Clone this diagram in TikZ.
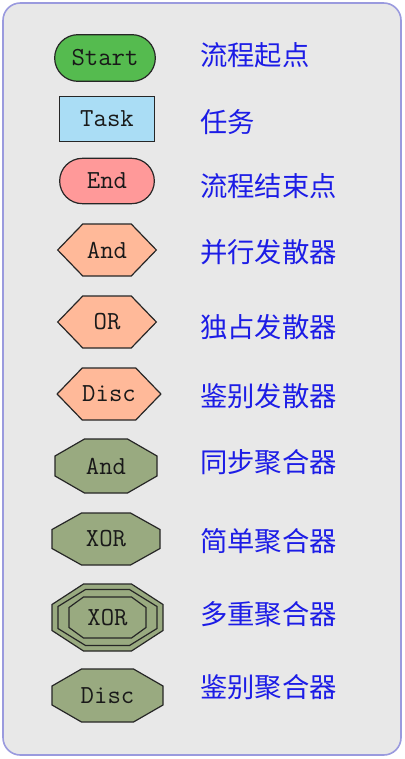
\documentclass[tikz,border=0pt]{standalone}
\usepackage{fontspec}
\newfontfamily\cjk{Noto Sans CJK SC}
\usetikzlibrary{shapes.misc, shapes.symbols}
\definecolor{panelbg}{HTML}{E8E8E8}
\definecolor{panelline}{HTML}{9A9ADE}
\definecolor{startfill}{HTML}{55BB4F}
\definecolor{taskfill}{HTML}{AADDF5}
\definecolor{endfill}{HTML}{FF9999}
\definecolor{splitfill}{HTML}{FFB999}
\definecolor{mergefill}{HTML}{99AA80}
\definecolor{labelblue}{HTML}{1C1CE6}
\tikzstyle{base} = [draw=black!85, line width=0.9pt, font=\ttfamily\fontsize{19.5}{19.5}\selectfont, text=black!90, inner sep=0pt]
\tikzstyle{startend} = [base, rounded rectangle, minimum width=75.5pt, minimum height=35pt]
\tikzstyle{taskbox} = [base, rectangle, minimum width=71pt, minimum height=33.5pt, fill=taskfill]
\tikzstyle{split} = [base, signal, signal to=west and east, signal pointer angle=92, minimum width=74pt, minimum height=39pt, fill=splitfill]
\tikzstyle{mergeline} = [draw=black!85, line width=0.9pt, fill=mergefill]
\tikzstyle{mergetext} = [base, draw=none]
\tikzstyle{legend} = [font=\cjk\fontsize{20.5}{20.5}\selectfont, text=labelblue, anchor=west, inner sep=0pt]
% octagon: centre, half width, half height, chamfer x, chamfer y
\newcommand{\mergeshape}[5]{%
  \draw[mergeline] (#1) ++({-(#2)},{(#5)-(#3)}) -- ++(0,{2*(#3)-2*(#5)}) -- ++(#4,#5)
    -- ++({2*(#2)-2*(#4)},0) -- ++(#4,{-(#5)}) -- ++(0,{2*(#5)-2*(#3)})
    -- ++({-(#4)},{-(#5)}) -- ++({2*(#4)-2*(#2)},0) -- cycle;}

\begin{document}
\begin{tikzpicture}[x=0.75pt, y=-0.75pt]
        \useasboundingbox (0,0) rectangle (404,759);
        \draw[fill=panelbg, draw=panelline, line width=1.2pt, rounded corners=13pt] (3,3) rectangle (401,755);
        \node[startend, fill=startfill] (start) at (105,58) {Start};
        \node[taskbox] (task) at (107,119) {Task};
        \node[startend, fill=endfill, minimum width=71pt, minimum height=34pt] (end) at (107,181) {End};
        \node[split] (and) at (107,250) {And};
        \node[split] (or) at (107,322) {OR};
        \node[split, minimum width=76pt] (disc) at (109,394) {Disc};
        \mergeshape{106,466}{51}{27}{29.5}{17}
        \node[mergetext] (sync) at (106,466) {And};
        \mergeshape{106,539}{54}{26}{29.5}{16.5}
        \node[mergetext] (xor) at (106,539) {XOR};
        \mergeshape{107.5,617.5}{55.5}{33.5}{31.5}{20.5}
        \mergeshape{107.5,617.5}{49.5}{28}{27.5}{17}
        \mergeshape{107.5,617.5}{38.5}{20.5}{14.5}{10.5}
        \node[mergetext] (multi) at (107.5,617.5) {XOR};
        \mergeshape{107.5,695.5}{55.5}{26.5}{29.5}{17}
        \node[mergetext] (discm) at (107.5,695.5) {Disc};
        \node[legend] (lstart) at (200,55) {流程起点};
        \node[legend] (ltask) at (200,122) {任务};
        \node[legend] (lend) at (200,186) {流程结束点};
        \node[legend] (land) at (200,252) {并行发散器};
        \node[legend] (lor) at (200,327) {独占发散器};
        \node[legend] (ldisc) at (200,396) {鉴别发散器};
        \node[legend] (lsync) at (200,462) {同步聚合器};
        \node[legend] (lxor) at (200,541) {简单聚合器};
        \node[legend] (lmulti) at (200,614) {多重聚合器};
        \node[legend] (ldiscm) at (200,687) {鉴别聚合器};
    \end{tikzpicture}
\end{document}
